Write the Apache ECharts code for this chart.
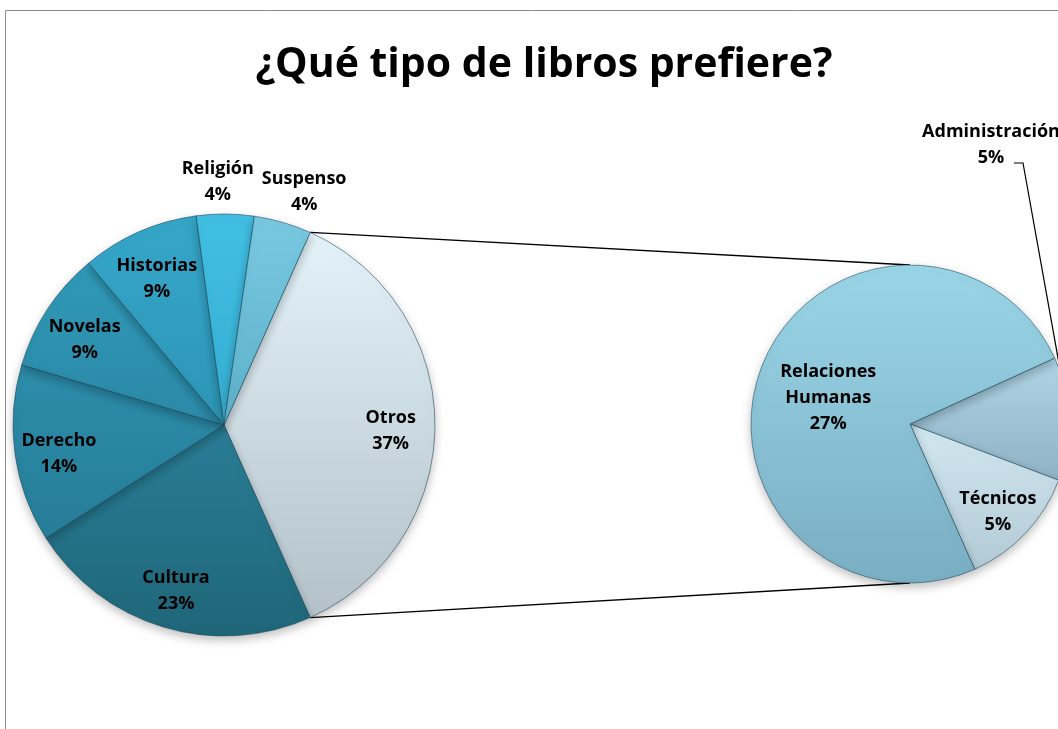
<!DOCTYPE html>
<html>
<head>
<meta charset="utf-8">
<title>¿Qué tipo de libros prefiere?</title>
<script src="https://cdn.jsdelivr.net/npm/echarts@6/dist/echarts.min.js"></script>
<style>
  html, body { margin: 0; padding: 0; background: #fff; }
  #chart { width: 1058px; height: 729px; }
</style>
</head>
<body>
<div id="chart"></div>
<script>
// datos (porcentaje del total)
var mainNames = ['Otros', 'Cultura', 'Derecho', 'Novelas', 'Historias', 'Religión', 'Suspenso'];
var mainValues = [36.6, 22.7, 13.6, 9.3, 9.0, 4.4, 4.4];
// desglose de "Otros"
var subNames = ['Administración', 'Técnicos', 'Relaciones Humanas'];
var subValues = [4.6, 4.6, 27.4];

// colores (arriba, abajo) de cada porción
var mainColors = [
    ['#e4f3f9', '#b3c1c8'],
    ['#2a7d96', '#1f6679'],
    ['#2d8dab', '#267d98'],
    ['#3099b8', '#2a89a6'],
    ['#35a7c9', '#2d95b6'],
    ['#41bfe3', '#35aed2'],
    ['#79c9e1', '#5db1ca']
];
var subColors = [
    ['#b0d5e5', '#8fb2c4'],
    ['#d2e8f1', '#b2cad5'],
    ['#9ad6e8', '#7aaec2']
];

var font = '"Open Sans", Lato, sans-serif';
var labelSize = 18;
var labelLH = 26;

// geometría de los dos círculos
var c1 = [224, 425], r1 = 211;
var c2 = [910, 424], r2 = 159;
var subStart = 24.5;

function sum(arr) {
    return arr.reduce(function (a, b) { return a + b; }, 0);
}

// "Otros" centrado a la derecha
var mainStart = mainValues[0] / sum(mainValues) * 180;

// ángulo medio de cada porción (grados, sentido horario desde start)
function midAngles(values, start) {
    var tot = sum(values);
    var a = start;
    var out = [];
    values.forEach(function (v) {
        var span = v / tot * 360;
        out.push(a - span / 2);
        a -= span;
    });
    return out;
}
var mainMid = midAngles(mainValues, mainStart);
var subMid = midAngles(subValues, subStart);

function polar(c, r, deg) {
    var a = deg * Math.PI / 180;
    return [c[0] + r * Math.cos(a), c[1] - r * Math.sin(a)];
}

function grad(pair) {
    return new echarts.graphic.LinearGradient(0, 0, 0, 1, [
        { offset: 0, color: pair[0] },
        { offset: 1, color: pair[1] }
    ]);
}

function fmt(p) {
    return p.name.replace(' ', '\n') + '\n' + Math.round(p.value) + '%';
}

// etiquetas de porciones pequeñas: fuera del círculo, sin solaparse
var ctx = document.createElement('canvas').getContext('2d');
ctx.font = 'bold ' + labelSize + 'px ' + font;
var outsidePos = {};
var prev = null;
mainValues.forEach(function (v, i) {
    if (v >= 5) return;
    var lines = fmt({ name: mainNames[i], value: v }).split('\n');
    var w = Math.max.apply(null, lines.map(function (l) { return ctx.measureText(l).width; }));
    var h = lines.length * labelLH;
    var th = mainMid[i] * Math.PI / 180;
    var e = polar(c1, r1 + 6, mainMid[i]);
    var cur = { i: i, w: w, x: e[0] + w / 2 * Math.cos(th), y: e[1] - h / 2 * Math.sin(th) };
    if (prev) {
        var o = (prev.x + prev.w / 2 + 8) - (cur.x - cur.w / 2);
        if (o > 0) {
            prev.x -= o / 2;
            cur.x += o / 2;
        }
    }
    outsidePos[i] = cur;
    prev = cur;
});

var labelStyle = {
    show: true,
    position: 'inside',
    formatter: fmt,
    color: '#000',
    fontFamily: font,
    fontWeight: 'bold',
    fontSize: labelSize,
    lineHeight: labelLH,
    textBorderWidth: 0,
    overflow: 'none'
};

var sliceStyle = {
    borderColor: 'rgba(25,70,90,0.55)',
    borderWidth: 1,
    shadowBlur: 10,
    shadowOffsetY: 4,
    shadowColor: 'rgba(0,0,0,0.25)'
};

var mainData = mainNames.map(function (n, i) {
    return { name: n, value: mainValues[i], itemStyle: { color: grad(mainColors[i]) } };
});

var subData = subNames.map(function (n, i) {
    var item = { name: n, value: subValues[i], itemStyle: { color: grad(subColors[i]) } };
    if (i === 0) {
        item.label = { position: 'outside' };
        item.labelLine = { show: true, lineStyle: { color: '#000', width: 1.2 } };
    }
    return item;
});

// líneas que unen "Otros" con el segundo círculo
var otrosTop = polar(c1, r1, mainStart);
var otrosBottom = polar(c1, r1, -mainStart);

var myChart = echarts.init(document.getElementById('chart'));

var option = {
    animation: false,
    backgroundColor: '#fff',
    title: {
        text: '¿Qué tipo de libros prefiere?',
        left: 539,
        textAlign: 'center',
        top: 40,
        textStyle: {
            fontFamily: font,
            fontWeight: 'bold',
            fontSize: 41,
            color: '#000'
        }
    },
    graphic: [
        {
            type: 'rect',
            shape: { x: 5.5, y: 10.5, width: 1200, height: 1000 },
            style: { fill: null, stroke: '#8a8a8a', lineWidth: 1 },
            silent: true
        },
        {
            type: 'line',
            shape: { x1: otrosTop[0], y1: otrosTop[1], x2: c2[0], y2: c2[1] - r2 },
            style: { stroke: '#000', lineWidth: 1.4 },
            silent: true
        },
        {
            type: 'line',
            shape: { x1: otrosBottom[0], y1: otrosBottom[1], x2: c2[0], y2: c2[1] + r2 },
            style: { stroke: '#000', lineWidth: 1.4 },
            silent: true
        }
    ],
    series: [
        {
            type: 'pie',
            center: c1,
            radius: r1,
            startAngle: mainStart,
            clockwise: true,
            silent: true,
            avoidLabelOverlap: false,
            label: labelStyle,
            labelLine: { show: false },
            labelLayout: function (p) {
                var i = p.dataIndex;
                if (outsidePos[i]) {
                    return { x: outsidePos[i].x, y: outsidePos[i].y, align: 'center', verticalAlign: 'middle' };
                }
                var pt = polar(c1, r1 * 0.79, mainMid[i]);
                return { x: pt[0], y: pt[1] + 6, align: 'center', verticalAlign: 'middle' };
            },
            itemStyle: sliceStyle,
            data: mainData
        },
        {
            type: 'pie',
            center: c2,
            radius: r2,
            startAngle: subStart,
            clockwise: true,
            silent: true,
            avoidLabelOverlap: false,
            label: labelStyle,
            labelLine: { show: false },
            labelLayout: function (p) {
                var i = p.dataIndex;
                if (i === 0) {
                    // etiqueta movida arriba a la derecha, con línea guía
                    var edge = polar(c2, r2, subMid[0]);
                    return {
                        x: 991, y: 145, align: 'center', verticalAlign: 'middle',
                        labelLinePoints: [edge, [1023, 163], [1014, 163]]
                    };
                }
                var rr = subValues[i] > 20 ? r2 * 0.55 : r2 * 0.76;
                var pt = polar(c2, rr, subMid[i]);
                return { x: pt[0], y: pt[1] + 5, align: 'center', verticalAlign: 'middle' };
            },
            itemStyle: sliceStyle,
            data: subData
        }
    ]
};

myChart.setOption(option, true);
</script>
</body>
</html>
